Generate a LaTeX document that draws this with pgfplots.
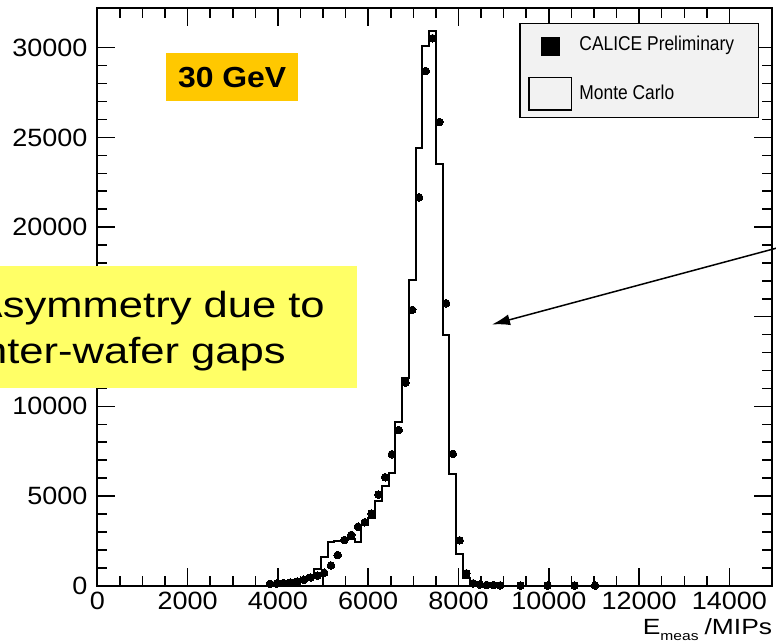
\documentclass[border=0pt]{standalone}
\usepackage{pgfplots}
\pgfplotsset{compat=1.18}
\usepackage{fontspec}
\setmainfont{Liberation Sans}
\usetikzlibrary{arrows.meta}
\definecolor{gevorange}{RGB}{255,200,0}
\definecolor{noteyellow}{RGB}{255,255,102}
\definecolor{leggray}{RGB}{242,242,242}
\begin{document}
\begin{tikzpicture}[x=1pt,y=1pt]
\useasboundingbox (0,0) rectangle (776,644);
\clip (0,0) rectangle (776,644);
\begin{axis}[
  scale only axis, width=675pt, height=577.4pt,
  at={(97.3pt,58.3pt)}, anchor=south west,
  xmin=0, xmax=14950, ymin=0, ymax=32200,
  scaled ticks=false,
  axis line style={line width=1.7pt},
  tick align=inside,
  xtick pos=both, ytick pos=both,
  xticklabel pos=lower, yticklabel pos=left,
  xtick={0,2000,4000,6000,8000,10000,12000,14000},
  xticklabels={0,2000,4000,6000,8000,10000,12000,14000},
  minor x tick num=3,
  ytick={0,5000,10000,15000,20000,25000,30000},
  yticklabels={0,5000,10000,{},20000,25000,30000},
  minor y tick num=4,
  major tick length=18pt, minor tick length=10pt,
  every tick/.style={black, line width=1.5pt},
  xticklabel style={font=\fontsize{25}{25}\selectfont, xscale=1.08, inner sep=0pt, anchor=north, yshift=-6pt},
  yticklabel style={font=\fontsize{25}{25}\selectfont, xscale=1.08, inner sep=0pt, anchor=east, xshift=-9pt},
  /pgf/number format/assume math mode=true,
]
\addplot[const plot, black, line width=2pt, mark=none] coordinates {
(0,0) (3750,60) (3900,100) (4050,130) (4200,170) (4350,220) (4500,300)
(4650,560) (4800,920) (4950,1620) (5100,2450) (5250,2500) (5400,2550)
(5550,2600) (5700,2450) (5850,3400) (6000,3750) (6150,4750) (6300,5560)
(6450,6300) (6600,9150) (6750,11570) (6900,17050) (7050,24430) (7200,30120)
(7350,30940) (7500,23500) (7650,13980) (7800,6210) (7950,1770) (8100,450)
(8250,120) (8400,40) (8550,0) (14950,0)};
\addplot[only marks, mark=*, mark size=3.8pt, mark options={fill=black, draw=black, line width=0pt}] coordinates {
(3825,100) (3975,120) (4125,150) (4275,180) (4425,230) (4575,330) (4725,460)
(4875,560) (5025,720) (5175,1130) (5325,1710) (5475,2550) (5625,2830)
(5775,3290) (5925,3540) (6075,4020) (6225,5080) (6375,6050) (6525,7330)
(6675,8680) (6825,11330) (6975,15380) (7125,21660) (7275,28700) (7425,30530)
(7575,25860) (7725,15750) (7875,7350) (8025,2530) (8175,690) (8325,130)
(8475,60) (8625,40) (8775,30) (8925,20) (9375,10) (9975,8) (10575,8) (11025,5)};
\end{axis}
% legend
\filldraw[fill=leggray, draw=black, line width=1.4pt] (520,526.7) rectangle (758.3,620.7);
\fill[black] (541,587.8) rectangle (560,606.8);
\draw[line width=1.1pt, fill=leggray] (529,534) rectangle (571.7,566.3);
\node[anchor=base west, inner sep=0pt, font=\fontsize{20}{20}\selectfont, xscale=0.87] at (579.3,593.3) {CALICE Preliminary};
\node[anchor=base west, inner sep=0pt, font=\fontsize{20}{20}\selectfont, xscale=0.87] at (579.3,544) {Monte Carlo};
% energy label
\fill[gevorange] (166,543) rectangle (298.3,591.3);
\node[anchor=base, inner sep=0pt, font=\fontsize{29}{29}\selectfont\bfseries, xscale=1.1] at (232.2,556.7) {30 GeV};
% note
\fill[noteyellow] (-20,256.3) rectangle (357.3,378);
\node[anchor=base east, inner sep=0pt, font=\fontsize{36.3}{36.3}\selectfont, xscale=1.2] at (325,326.3) {Asymmetry due to};
\node[anchor=base east, inner sep=0pt, font=\fontsize{36.3}{36.3}\selectfont, xscale=1.2] at (286,280.7) {inter-wafer gaps};
\draw[line width=1.5pt, -{Latex[length=18pt, width=11pt]}] (780,396.8) -- (492,319.5);
% x label
\node[anchor=base east, inner sep=0pt, font=\fontsize{22}{22}\selectfont, xscale=1.2] at (772.3,9) {E\raisebox{-6pt}{\fontsize{13}{13}\selectfont meas}\hspace{5pt}/MIPs};
\end{tikzpicture}
\end{document}
